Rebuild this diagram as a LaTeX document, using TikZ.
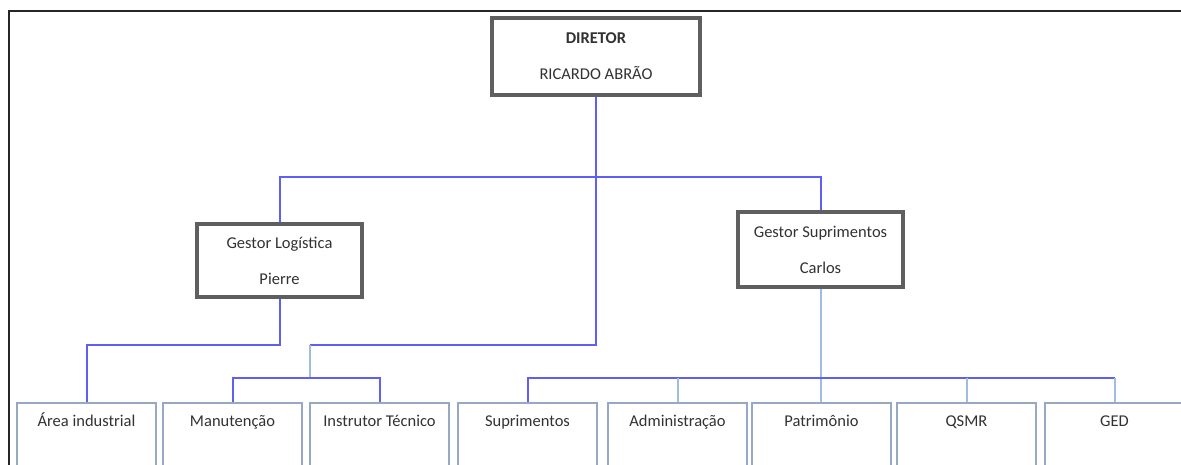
\documentclass[tikz,border=0pt]{standalone}
\usepackage{fontspec}
\setmainfont{Carlito}
\usetikzlibrary{positioning,calc}

\definecolor{linkblue}{RGB}{95,95,245}
\definecolor{linklight}{RGB}{160,188,222}
\definecolor{unitedge}{RGB}{150,168,195}
\definecolor{bossedge}{RGB}{95,95,95}
\definecolor{textgray}{RGB}{50,50,50}

\tikzset{
boss/.style={draw=bossedge,line width=4pt,fill=white,text=textgray,
  align=center,inner sep=0pt,font=\fontsize{16.5}{36}\selectfont},
unit/.style={draw=unitedge,line width=2.2pt,fill=white,text=textgray,
  anchor=north,minimum width=139pt,inner xsep=0pt,inner ysep=12pt,
  text height=11pt,text depth=70pt,font=\fontsize{16.5}{18}\selectfont},
link/.style={draw=linkblue,line width=2pt},
linklt/.style={draw=linklight,line width=2pt},
frame/.style={draw=black!85,line width=2.5pt}
}

\begin{document}
\begin{tikzpicture}[x=1pt,y=-1pt]
\useasboundingbox (0,0) rectangle (1181,465);
\clip (0,0) rectangle (1181,465);

\draw[frame] (9,470) -- (9,11) -- (1190,11);

\node[boss,minimum width=208pt,minimum height=77pt] (dir) at (596,56.5)
  {\textbf{DIRETOR}\\RICARDO ABRÃO};
\node[boss,minimum width=165pt,minimum height=73pt] (log) at (279.5,260.5)
  {Gestor Logística\\Pierre};
\node[boss,minimum width=165pt,minimum height=75pt] (sup) at (820.5,249.5)
  {Gestor Suprimentos\\Carlos};

\node[unit] (area) at (86.5,402)  {Área industrial};
\node[unit] (man)  at (232.5,402) {Manutenção};
\node[unit] (inst) at (379.5,402) {Instrutor Técnico};
\node[unit] (supr) at (527.5,402) {Suprimentos};
\node[unit] (adm)  at (677.5,402) {Administração};
\node[unit] (pat)  at (821.5,402) {Patrimônio};
\node[unit] (qsmr) at (966.5,402) {QSMR};
\node[unit] (ged)  at (1114.5,402) {GED};

\draw[link] (log.north) -- (log.north |- 0,177) -| (sup.north);
\draw[link] (dir.south) -- (dir.south |- 0,345) -- (310,345);
\draw[linklt] (310,345) -- (310,378);
\draw[link] (man.north) |- (310,378) -| (inst.north);
\draw[link] (log.south) |- (area.north |- 0,345) -- (area.north);
\draw[linklt] (sup.south) -- (sup.south |- pat.north);
\draw[link] (supr.north) |- (ged.north |- 0,378);
\foreach \u in {adm,qsmr,ged}
  \draw[linklt] (\u.north) -- (\u.north |- 0,378);
\end{tikzpicture}
\end{document}
